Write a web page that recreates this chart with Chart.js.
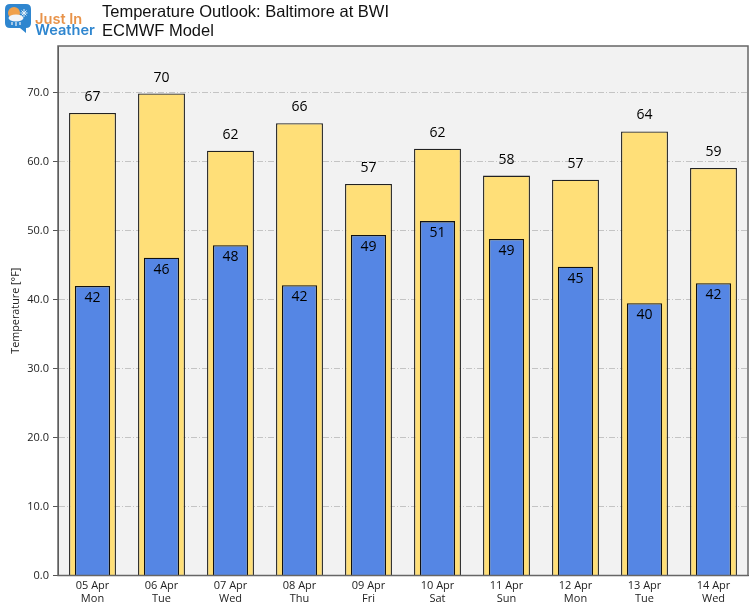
<!DOCTYPE html>
<html>
<head>
<meta charset="utf-8">
<style>
    html, body { margin: 0; padding: 0; background: #fff; }
    #wrap { position: relative; width: 750px; height: 608px; overflow: hidden; }
    #chart { position: absolute; left: 0; top: 0; }
    .title { position: absolute; left: 102px; font: 16.5px "Liberation Sans", Arial, sans-serif; color: #111; white-space: nowrap; }
    .brand { position: absolute; left: 35px; font: 600 14.6px Inter, sans-serif; white-space: nowrap; }
    #logo { position: absolute; left: 5px; top: 4px; }
</style>
</head>
<body>
<div id="wrap">
    <canvas id="chart" width="750" height="608"></canvas>
    <svg id="logo" width="26" height="30" viewBox="0 0 26 30">
        <path d="M5 0H21Q26 0 26 5V19Q26 24 21 24V29L15 24H5Q0 24 0 19V5Q0 0 5 0Z" fill="#2f86cf"/>
        <circle cx="9" cy="9" r="6" fill="#f0a04b"/>
        <ellipse cx="11" cy="14" rx="7.5" ry="3.5" fill="#f2f4f7"/>
        <path d="M7 18V21M11 18V22M15 18V21" stroke="#f2f4f7" stroke-width="1.2"/>
        <path d="M19 5V13M15.5 9H22.5M16.5 6.5L21.5 11.5M21.5 6.5L16.5 11.5" stroke="#e3eff9" stroke-width="1"/>
    </svg>
    <div class="brand" style="top:9.5px;color:#e8934a">Just In</div>
    <div class="brand" style="top:21px;color:#2f86cf">Weather</div>
    <div class="title" style="top:2px">Temperature Outlook: Baltimore at BWI</div>
    <div class="title" style="top:21px">ECMWF Model</div>
</div>
<script src="https://cdn.jsdelivr.net/npm/chart.js@4/dist/chart.umd.js"></script>
<script>
const dates = ['05 Apr', '06 Apr', '07 Apr', '08 Apr', '09 Apr', '10 Apr', '11 Apr', '12 Apr', '13 Apr', '14 Apr'];
const weekdays = ['Mon', 'Tue', 'Wed', 'Thu', 'Fri', 'Sat', 'Sun', 'Mon', 'Tue', 'Wed'];
const highs = [67.1, 69.9, 61.6, 65.6, 56.8, 61.9, 58.0, 57.4, 64.4, 59.1];
const lows = [42.0, 46.1, 47.9, 42.1, 49.4, 51.4, 48.8, 44.8, 39.5, 42.4];

// plot background, frame and the value labels
const decorations = {
    id: 'decorations',
    beforeDraw(chart) {
        const { ctx, chartArea: a } = chart;
        ctx.fillStyle = '#f2f2f2';
        ctx.fillRect(a.left, a.top, a.width, a.height);
    },
    afterDatasetsDraw(chart) {
        const { ctx, chartArea: a, scales } = chart;
        ctx.save();
        ctx.strokeStyle = '#666';
        ctx.lineWidth = 1.5;
        ctx.strokeRect(a.left, a.top, a.width, a.height);
        ctx.font = '14px "Open Sans", sans-serif';
        ctx.fillStyle = '#000';
        ctx.textAlign = 'center';
        ctx.textBaseline = 'middle';
        dates.forEach((d, i) => {
            const x = scales.x.getPixelForValue(i);
            ctx.fillText(Math.round(highs[i]), x, scales.y.getPixelForValue(highs[i]) - 16);
            ctx.fillText(Math.round(lows[i]), x, scales.y.getPixelForValue(lows[i]) + 12);
        });
        ctx.restore();
    },
};

new Chart(document.getElementById('chart'), {
    type: 'bar',
    data: {
        labels: dates.map((d, i) => [d, weekdays[i]]),
        datasets: [
            {
                label: 'Low',
                data: lows,
                order: 1,
                backgroundColor: '#5586e4',
                borderColor: '#111',
                borderWidth: 1.3,
                barPercentage: 0.51,
            },
            {
                label: 'High',
                data: highs,
                order: 2,
                backgroundColor: '#ffdf78',
                borderColor: '#222',
                borderWidth: 1.3,
                barPercentage: 0.68,
            },
        ],
    },
    options: {
        responsive: false,
        animation: false,
        devicePixelRatio: 1,
        grouped: false,
        categoryPercentage: 1,
        layout: { padding: { top: 46, right: 2, left: 0, bottom: 0 } },
        plugins: { legend: { display: false }, tooltip: { enabled: false } },
        scales: {
            x: {
                afterFit(scale) { scale.height = 32.5; },
                grid: { display: false },
                border: { color: '#444' },
                ticks: { color: '#222', font: { family: 'Open Sans', size: 11, lineHeight: 1.2 }, maxRotation: 0, padding: -4 },
            },
            y: {
                min: 0,
                max: 76.8,
                afterFit(scale) { scale.width = 58; },
                title: { display: true, text: 'Temperature [°F]', color: '#222', font: { family: 'Open Sans', size: 10.8 }, padding: { top: 9, bottom: 0 } },
                border: { color: '#444', dash: [6, 2, 1, 2] },
                grid: { color: '#c4c4c4', lineWidth: 1, tickBorderDash: [], tickColor: '#555', tickLength: 5 },
                ticks: {
                    stepSize: 10,
                    includeBounds: false,
                    color: '#222',
                    font: { family: 'Open Sans', size: 11 },
                    padding: 4,
                    callback: (v) => v.toFixed(1),
                },
            },
        },
    },
    plugins: [decorations],
});
</script>
</body>
</html>
